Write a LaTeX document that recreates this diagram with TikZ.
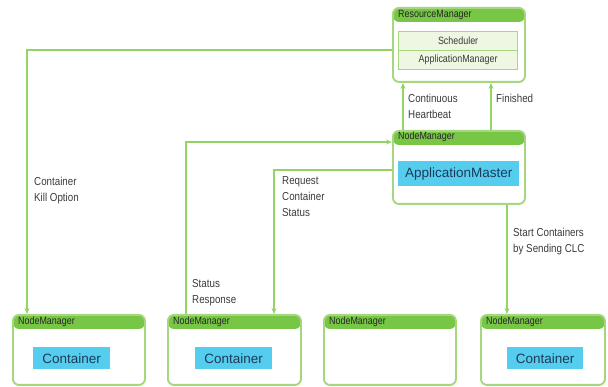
\documentclass[tikz,border=0pt]{standalone}
\usepackage{fontspec}
\setmainfont{Liberation Sans}
\newfontfamily\narrowfont{Liberation Sans}[FakeStretch=0.85]
\usetikzlibrary{arrows.meta}
\definecolor{frame}{HTML}{A5D77E}
\definecolor{headgreen}{HTML}{78C646}
\definecolor{wire}{HTML}{93D465}
\definecolor{innerfill}{HTML}{EDF7E1}
\definecolor{bluebox}{HTML}{55CDEF}
\definecolor{bluetext}{HTML}{1E3A56}
\definecolor{labtext}{HTML}{3A3A3A}
\tikzset{
  box/.style={draw=frame, line width=1.9pt, rounded corners=6pt, fill=white,
    inner sep=0pt, anchor=north west,
    path picture={\fill[headgreen] (path picture bounding box.north west)
      rectangle ([yshift=-14pt]path picture bounding box.north east);}},
  headlab/.style={anchor=west, inner sep=0pt, text=black!85,
    font=\narrowfont\fontsize{10.5}{12}\selectfont},
  innerrow/.style={draw=frame, line width=1.2pt, fill=innerfill, inner sep=0pt,
    anchor=north west, minimum width=119pt, minimum height=19pt,
    text=labtext, font=\narrowfont\fontsize{10.5}{12}\selectfont},
  bluerect/.style={fill=bluebox, inner sep=0pt, anchor=north west, text=bluetext,
    font=\fontsize{13.5}{15}\selectfont},
  conn/.style={draw=wire, line width=1.4pt, -{Stealth[length=6pt,width=5pt]}},
  edgelab/.style={anchor=north west, inner sep=0pt, align=left, text=labtext,
    font=\narrowfont\fontsize{11.5}{16}\selectfont},
}
\begin{document}
\begin{tikzpicture}[x=1pt,y=-1pt]
\useasboundingbox (0,0) rectangle (608,387);

% ResourceManager
\node[box, minimum width=132pt, minimum height=74pt] (rm) at (392,7) {};
\node[headlab] (rmlab) at ([shift={(6pt,-7.5pt)}]rm.north west) {ResourceManager};
\node[innerrow] (sched) at (398,31) {Scheduler};
\node[innerrow] (appmgr) at (398,50) {ApplicationManager};

% NodeManager hosting the ApplicationMaster
\node[box, minimum width=132pt, minimum height=73pt] (amnm) at (392,130) {};
\node[headlab] (amnmlab) at ([shift={(6pt,-7pt)}]amnm.north west) {NodeManager};
\node[bluerect, minimum width=121pt, minimum height=25pt] (am) at (398,161) {ApplicationMaster};

% Worker NodeManagers
\node[box, minimum width=132pt, minimum height=70pt] (nm1) at (12,314) {};
\node[box, minimum width=133pt, minimum height=70pt] (nm2) at (167,314) {};
\node[box, minimum width=132pt, minimum height=70pt] (nm3) at (323,314) {};
\node[box, minimum width=124pt, minimum height=70pt] (nm4) at (480,314) {};
\node[headlab] (nm1lab) at ([shift={(6pt,-7.5pt)}]nm1.north west) {NodeManager};
\node[headlab] (nm2lab) at ([shift={(6pt,-7.5pt)}]nm2.north west) {NodeManager};
\node[headlab] (nm3lab) at ([shift={(6pt,-7.5pt)}]nm3.north west) {NodeManager};
\node[headlab] (nm4lab) at ([shift={(6pt,-7.5pt)}]nm4.north west) {NodeManager};
\node[bluerect, minimum width=77pt, minimum height=22pt] (c1) at (33,347) {Container};
\node[bluerect, minimum width=77pt, minimum height=22pt] (c2) at (195,347) {Container};
\node[bluerect, minimum width=76pt, minimum height=22pt] (c4) at (507,347) {Container};

% Connectors
\draw[conn] (rm.west |- 0,50) -| (nm1.north -| 27,0);
\draw[conn] (nm2.north -| 186,0) |- (amnm.west |- 0,142);
\draw[conn] (amnm.west |- 0,170) -| (nm2.north -| 274,0);
\draw[conn] (amnm.south -| 507,0) -- (nm4.north -| 507,0);
\draw[conn] (amnm.north -| 403,0) -- (rm.south -| 403,0);
\draw[conn] (amnm.north -| 491,0) -- (rm.south -| 491,0);

% Connector labels
\node[edgelab] (killlab) at (34,177) {Container\\Kill Option};
\node[edgelab] (statlab) at (192,279) {Status\\Response};
\node[edgelab] (reqlab) at (282,176) {Request\\Container\\Status};
\node[edgelab] (startlab) at (513,228) {Start Containers\\by Sending CLC};
\node[edgelab] (hblab) at (408,94) {Continuous\\Heartbeat};
\node[edgelab] (finlab) at (496,94) {Finished};
\end{tikzpicture}
\end{document}
